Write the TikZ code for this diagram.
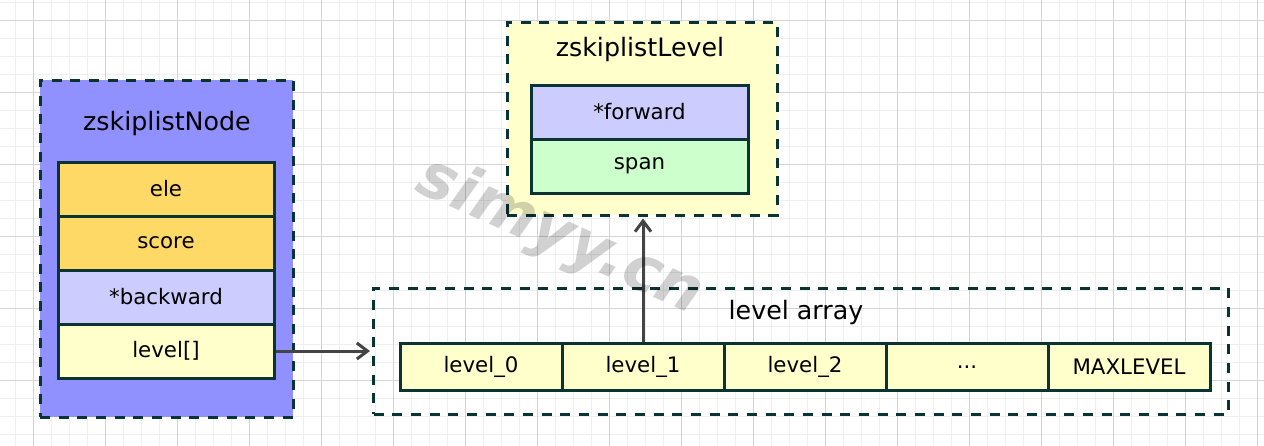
\documentclass[tikz,border=0pt]{standalone}
\usepackage{fontspec}
\setmainfont{DejaVu Sans}
\usetikzlibrary{arrows.meta}
\definecolor{bord}{HTML}{0A3333}
\definecolor{outerblue}{HTML}{9090FF}
\definecolor{orangey}{HTML}{FFD966}
\definecolor{lilac}{HTML}{CCCCFF}
\definecolor{paleyellow}{HTML}{FFFFCC}
\definecolor{palegreen}{HTML}{CCFFCC}
\definecolor{arrowgray}{HTML}{444444}
\definecolor{minorgrid}{HTML}{EFEFEF}
\definecolor{majorgrid}{HTML}{D4D4D4}
\tikzset{
  dashbox/.style={draw=bord, line width=2.25pt, dash pattern=on 7.5pt off 6.5pt, inner sep=0pt},
  rowbox/.style={draw=bord, line width=2.25pt, inner sep=0pt, font=\fontsize{16}{19}\selectfont,
    minimum width=162pt, minimum height=40.5pt},
  cellbox/.style={draw=bord, line width=2.25pt, inner sep=0pt, font=\fontsize{16}{19}\selectfont,
    minimum width=121.5pt, minimum height=35.25pt, fill=paleyellow},
  titletext/.style={font=\fontsize{19}{23}\selectfont, inner sep=0pt},
  conn/.style={draw=arrowgray, line width=2.25pt, -{Straight Barb[length=8pt,width=12pt]}},
}
\begin{document}
\begin{tikzpicture}[x=0.75pt,y=-0.75pt]
\fill[white] (0,0) rectangle (1264,446);
\useasboundingbox (0,0) rectangle (1264,446);
% grid
\foreach \i in {0,...,69} { \draw[minorgrid, line width=0.75pt] ({15+18*\i},0) -- ({15+18*\i},446); }
\foreach \j in {0,...,24} { \draw[minorgrid, line width=0.75pt] (0,{2+18*\j}) -- (1264,{2+18*\j}); }
\foreach \i in {0,...,17} { \draw[majorgrid, line width=0.75pt] ({33+72*\i},0) -- ({33+72*\i},446); }
\foreach \j in {0,...,5} { \draw[majorgrid, line width=0.75pt] (0,{20+72*\j}) -- (1264,{20+72*\j}); }

% zskiplistNode
\node[dashbox, fill=outerblue, minimum width=189.75pt, minimum height=252.75pt] (node) at (166.5,248.5) {};
\node[titletext] (nodetitle) at (167,124) {zskiplistNode};
\node[rowbox, fill=orangey] (ele) at (166,189) {ele};
\node[rowbox, fill=orangey] (score) at (166,243) {score};
\node[rowbox, fill=lilac] (backward) at (166,297) {*backward};
\node[rowbox, fill=paleyellow] (lvl) at (166,351) {level[]};

% zskiplistLevel
\node[dashbox, fill=paleyellow, minimum width=202.5pt, minimum height=144.75pt] (zl) at (642,118.5) {};
\node[titletext] (zltitle) at (640,50) {zskiplistLevel};
\node[rowbox, fill=lilac, minimum width=162.75pt] (forward) at (639.5,112) {*forward};
\node[rowbox, fill=palegreen, minimum width=162.75pt] (span) at (639.5,166) {span};

% level array
\node[dashbox, minimum width=641.25pt, minimum height=94.5pt] (arr) at (801,351) {};
\node[titletext] (arrtitle) at (796,313) {level array};
\node[cellbox] (c0) at (481,367) {level\_0};
\node[cellbox] (c1) at (643,367) {level\_1};
\node[cellbox] (c2) at (805,367) {level\_2};
\node[cellbox] (c3) at (967,367) {...};
\node[cellbox] (c4) at (1129,367) {MAXLEVEL};

% connectors
\draw[conn, shorten >=1.5pt] (lvl.east) -- (arr.west);
\draw[conn, shorten >=1.5pt] (c1.north) -- (c1.north |- zl.south);

% watermark
\node[rotate=-24, text=black, opacity=0.18, font=\fontsize{47}{47}\selectfont\bfseries\itshape] (wm) at (560,237) {simyy.cn};
\end{tikzpicture}
\end{document}
